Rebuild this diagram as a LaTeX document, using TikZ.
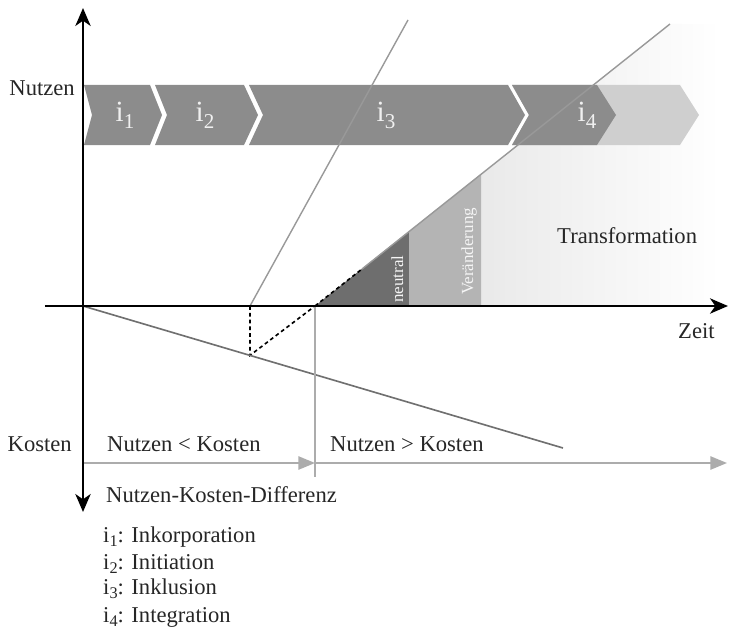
\documentclass[tikz,border=0pt]{standalone}
\usepackage{fontspec}
\setmainfont{Liberation Serif}
\usetikzlibrary{arrows.meta}

\newcommand{\chevron}[5]{%
\fill[color=#5] (#1,6.63) -- (#2,6.63) -- ++(#4,-0.9) -- (#2,4.83) -- (#1,4.83) -- ++(#3,0.9) -- cycle;}
\newcommand{\idx}[1]{i\raisebox{-0.45ex}{\scalebox{0.72}{#1}}}

\begin{document}
\begin{tikzpicture}[
  achse/.style={line width=1.6pt},
  spitze/.tip={Stealth[length=5.4mm,width=4.6mm,inset=1.6mm]},
  grauerpfeil/.style={color=gray!65,line width=1.4pt,-{Triangle[length=5mm,width=4mm]}},
  gerade/.style={color=gray!80,line width=1.2pt},
  hilfslinie/.style={line width=1.4pt,dash pattern=on 3.2pt off 2.6pt},
  beschriftung/.style={inner sep=0pt,color=black!85,font=\fontsize{19.3}{23}\selectfont},
  phase/.style={inner sep=0pt,anchor=base,color=gray!12,font=\fontsize{25}{29}\selectfont},
  stufe/.style={inner sep=0pt,anchor=base west,rotate=90,color=gray!8,font=\fontsize{14.5}{17}\selectfont}]
\useasboundingbox (-2.49,-9.69) rectangle (19.38,9.18);

\coordinate (O) at (0,0);
\coordinate (xl) at (-1.14,0);
\coordinate (xr) at (19.35,0);
\coordinate (yo) at (0,8.94);
\coordinate (yu) at (0,-6.18);
\coordinate (A) at (5.01,0);
\coordinate (A1) at (9.75,8.58);
\coordinate (S) at (6.96,0);
\coordinate (S1) at (8.37,1.11);
\coordinate (S2) at (17.61,8.46);
\coordinate (K) at (5.01,-1.48);
\coordinate (K1) at (14.4,-4.26);
\coordinate (Su) at (6.96,-5.13);
\coordinate (P0) at (0,-4.71);
\coordinate (P1) at (6.96,-4.71);
\coordinate (P2) at (19.32,-4.71);

% Flaechen unter der Nutzengeraden
\shade[left color=gray!17,middle color=gray!12,right color=white] (11.94,0) -- (11.94,3.95) -- (S2) -- (19.1,8.46) -- (19.1,0) -- cycle;
\fill[color=black!57] (S) -- (9.78,2.24) -- (9.78,0) -- cycle;
\fill[color=gray!59] (9.78,0) -- (9.78,2.24) -- (11.94,3.95) -- (11.94,0) -- cycle;

% Phasen
\chevron{12.87}{17.91}{0.51}{0.57}{gray!38}
\chevron{0.03}{2.01}{0.24}{0.36}{gray!90}
\chevron{2.16}{4.83}{0.36}{0.42}{gray!90}
\chevron{4.98}{12.75}{0.42}{0.51}{gray!90}
\chevron{12.87}{15.42}{0.51}{0.57}{gray!90}

\node (i1) at (1.26,5.52) [phase] {\idx{1}};
\node (i2) at (3.66,5.52) [phase] {\idx{2}};
\node (i3) at (9.09,5.52) [phase] {\idx{3}};
\node (i4) at (15.12,5.52) [phase] {\idx{4}};

\draw[gerade] (A) -- (A1);
\draw[hilfslinie] (S) -- (S1);
\draw[gerade] (S1) -- (S2);
\draw[hilfslinie] (A) -- (K) -- (S);
\draw[color=black!56,line width=1.4pt] (O) -- (K1);
\draw[color=gray!65,line width=1.3pt] (S) -- (Su);
\draw[grauerpfeil] (P0) -- (P1);
\draw[grauerpfeil] (P1) -- (P2);

\draw[achse,-spitze] (xl) -- (xr);
\draw[achse,spitze-spitze] (yu) -- (yo);

\node (neutral) at (9.6,0.09) [stufe] {neutral};
\node (veraenderung) at (11.7,0.33) [stufe] {Veränderung};
\node (transformation) at (14.22,1.89) [beschriftung,anchor=base west] {Transformation};

\node (nutzen) at (-0.24,6.33) [beschriftung,anchor=base east] {Nutzen};
\node (kosten) at (-0.33,-4.35) [beschriftung,anchor=base east] {Kosten};
\node (zeit) at (17.85,-0.96) [beschriftung,anchor=base west] {Zeit};
\node (kleiner) at (0.72,-4.35) [beschriftung,anchor=base west] {Nutzen < Kosten};
\node (groesser) at (7.41,-4.35) [beschriftung,anchor=base west] {Nutzen > Kosten};
\node (differenz) at (0.69,-5.88) [beschriftung,anchor=base west] {Nutzen-Kosten-Differenz};

\node (l1) at (0.6,-7.08) [beschriftung,anchor=base west] {\idx{1}: Inkorporation};
\node (l2) at (0.6,-7.89) [beschriftung,anchor=base west] {\idx{2}: Initiation};
\node (l3) at (0.6,-8.64) [beschriftung,anchor=base west] {\idx{3}: Inklusion};
\node (l4) at (0.6,-9.48) [beschriftung,anchor=base west] {\idx{4}: Integration};

\end{tikzpicture}
\end{document}
